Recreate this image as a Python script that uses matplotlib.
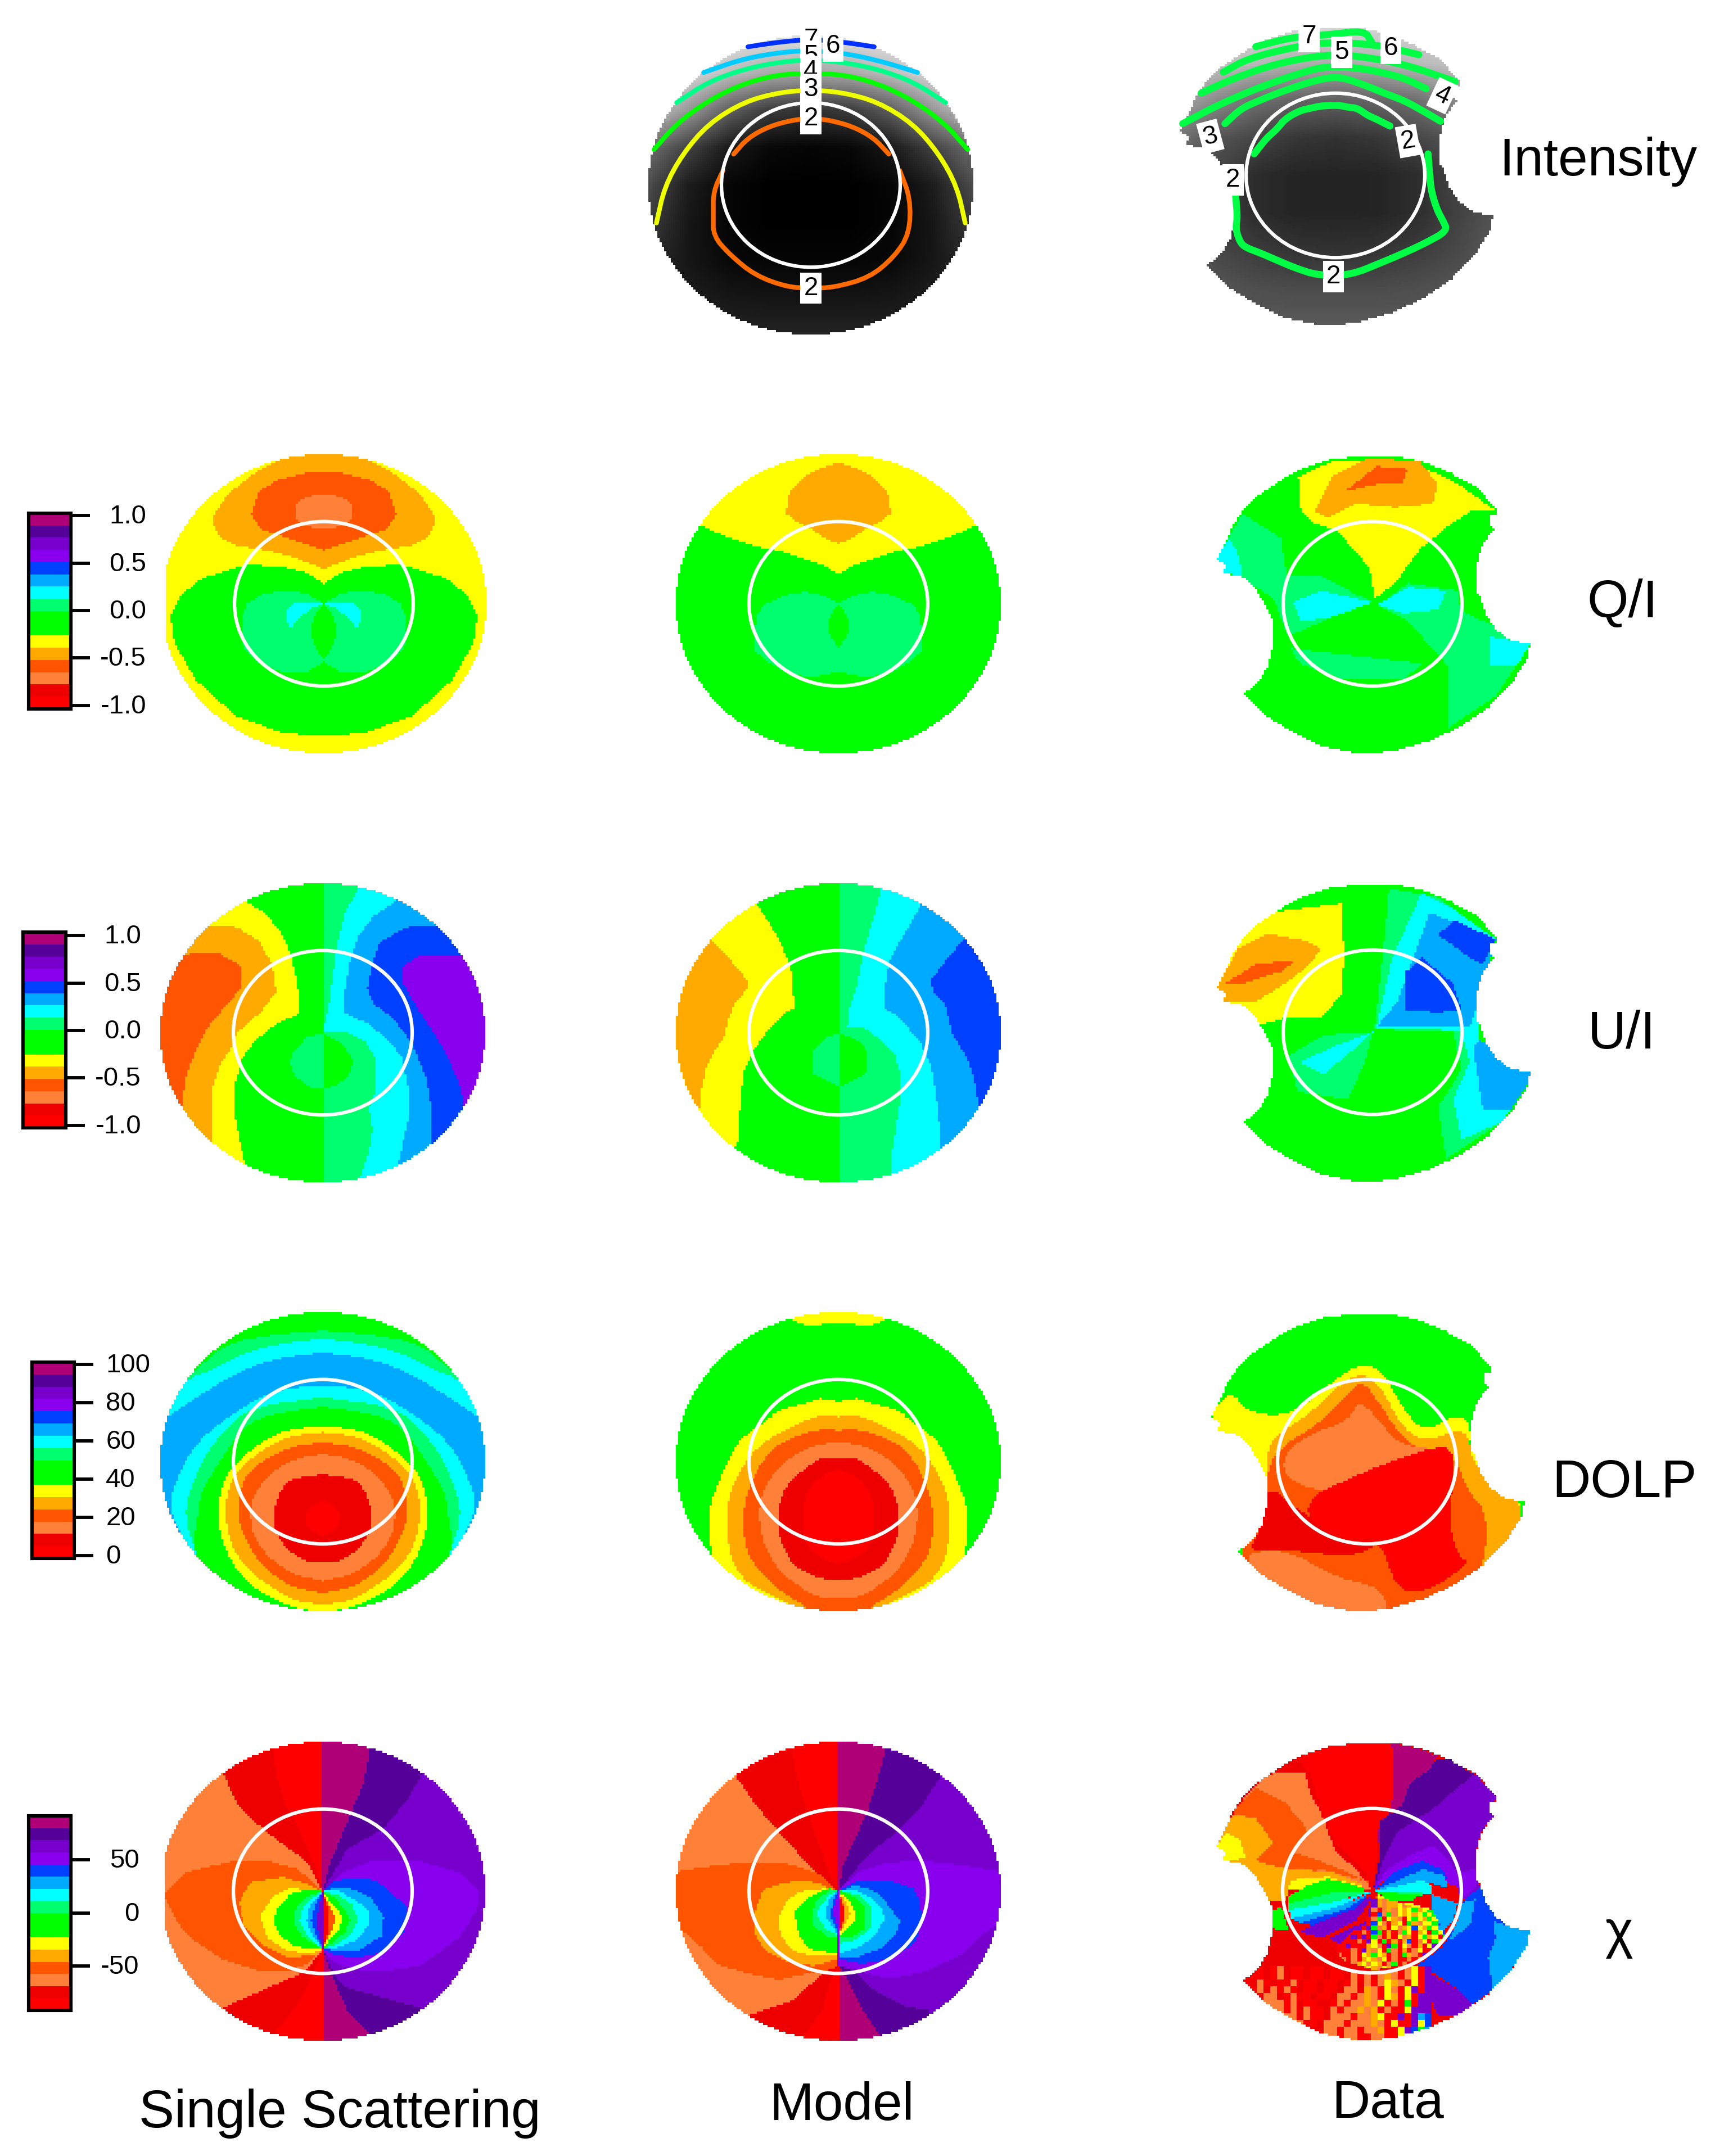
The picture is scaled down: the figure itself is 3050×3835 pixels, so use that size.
"""
Sky radiance / polarization maps: single scattering, model and data.
Region outlines are read off the original figure, in panel units
(u, v) where the ring has radius 0.55 and the full sky disk radius 1.
"""
import numpy as np
import matplotlib
matplotlib.use('Agg')
import matplotlib.pyplot as plt
from matplotlib.colors import ListedColormap, BoundaryNorm
from matplotlib.patches import Ellipse
from matplotlib.path import Path
from matplotlib.transforms import ScaledTranslation

plt.rcParams['font.family'] = ['Liberation Sans', 'DejaVu Sans']

W, H = 3050, 3835
RED, DRED, LORANGE, ORANGE, AMBER, YELLOW, GREEN, SPRING, CYAN, SKY, BLUE, VIOLET, PURPLE, DPURPLE, MAGENTA = range(15)
level_colors = ['#FF0000', '#EE0000', '#FF8038', '#FF5500', '#FFAA00', '#FFFF00', '#00FF00', '#00FF6E',
                '#00FFFF', '#00AAFF', '#0040FF', '#8800EE', '#7700CC', '#550099', '#B00077']
cbar_levels = [0, 1, 2, 3, 4, 5, 6, 6, 7, 8, 9, 10, 11, 12, 13, 14]

cbar_q_ticks = [-1.0, -0.5, 0.0, 0.5, 1.0]
cbar_q_labels = ['-1.0', '-0.5', '0.0', '0.5', '1.0']
cbar_dolp_ticks = [0, 20, 40, 60, 80, 100]
cbar_chi_ticks = [-50, 0, 50]


def sym(half):
    # outline given for u >= 0, mirrored to the left
    return half + [(-u, v) for u, v in reversed(half)]


def zoomed(pts, x0=762, sx=640.6, y0=740, sy=697.7):
    # outlines read straight from a crop of the figure
    return [((x - x0) / sx, (y0 - y) / sy) for x, y in pts]


data_outline = [(-.08, .99), (.12, .99), (.31, .95), (.47, .88), (.64, .78), (.76, .64), (.77, .60), (.72, .59),
                (.72, .53), (.75, .50), (.68, .40), (.65, .30), (.64, .20), (.64, .09), (.67, .03), (.70, -.07),
                (.76, -.17), (.84, -.24), (.97, -.27), (.95, -.37), (.86, -.53), (.71, -.70), (.53, -.83),
                (.34, -.92), (.12, -.99), (-.10, -1.0), (-.32, -.95), (-.49, -.86), (-.66, -.75), (-.80, -.60),
                (-.74, -.56), (-.69, -.50), (-.65, -.43), (-.62, -.30), (-.61, -.16), (-.62, -.10), (-.66, -.01),
                (-.72, .10), (-.81, .19), (-.92, .20), (-.90, .26), (-.96, .29), (-.92, .37), (-.86, .52),
                (-.80, .62), (-.71, .72), (-.64, .77), (-.53, .85), (-.46, .89), (-.28, .96)]

# Q/I
q_single = [
    (AMBER, sym([(0, 1.1), (.13, 1.0), (.28, .96), (.43, .87), (.59, .735), (.68, .59), (.68, .52), (.64, .44),
                 (.545, .39), (.32, .35), (.21, .32), (.10, .275), (0, .235)])),
    (ORANGE, sym([(0, .875), (.10, .875), (.28, .83), (.40, .75), (.445, .60), (.39, .50), (.235, .446), (0, .36)])),
    (LORANGE, sym([(0, .73), (.09, .72), (.16, .68), (.18, .62), (.16, .55), (.08, .51), (0, .51)])),
    (GREEN, sym([(0, .135), (.10, .205), (.26, .25), (.48, .26), (.75, .17), (.88, .06), (.945, -.08), (.92, -.26),
                 (.79, -.51), (.545, -.75), (.26, -.86), (.10, -.88), (0, -.88)])),
    (SPRING, sym([(0, 0), (.10, .065), (.21, .09), (.37, .065), (.47, 0), (.51, -.11), (.50, -.28), (.41, -.39),
                  (.26, -.455), (.10, -.455), (0, -.39)])),
    (GREEN, sym([(0, 0), (.05, -.07), (.075, -.15), (.075, -.22), (.05, -.3), (0, -.375)])),
    (CYAN, [(.005, 0), (.05, .015), (.18, .015), (.225, -.045), (.23, -.11), (.20, -.165), (.15, -.09), (.07, -.03)]),
    (CYAN, [(-.005, 0), (-.05, .015), (-.18, .015), (-.225, -.045), (-.23, -.11), (-.20, -.165), (-.15, -.09), (-.07, -.03)]),
]
q_model = [
    (YELLOW, sym([(0, 1.1), (1.1, 1.1), (1.1, .56), (.86, .53), (.74, .47), (.52, .385), (.37, .357), (.215, .30),
                  (.09, .255), (0, .2)])),
    (AMBER, sym([(0, .945), (.10, .91), (.215, .845), (.30, .745), (.32, .63), (.33, .61), (.26, .55), (.154, .49),
                 (.085, .44), (0, .40)])),
    (SPRING, sym([(0, 0), (.077, .05), (.2, .08), (.34, .055), (.46, -.01), (.5, -.075), (.51, -.145), (.52, -.25),
                  (.51, -.32), (.43, -.39), (.31, -.47), (.154, -.49), (0, -.455)])),
    (GREEN, sym([(0, -.01), (.04, -.06), (.062, -.12), (.055, -.2), (.03, -.25), (0, -.295)])),
]
q_data = [
    (YELLOW, [(-.456, .85), (-.25, .95), (.215, .96), (.53, .80), (.76, .62), (.61, .62), (.465, .52), (.29, .365),
              (.137, .137), (.012, .035), (-.02, .24), (-.22, .49), (-.36, .54), (-.44, .62)]),
    (AMBER, [(-.35, .62), (-.25, .85), (-.02, .975), (.29, .95), (.40, .80), (.37, .67), (.137, .645), (-.097, .67), (-.28, .57)]),
    (ORANGE, [(-.175, .75), (.03, .92), (.215, .9), (.18, .8), (.03, .8)]),
    (SPRING, [(-.955, .31), (-.8, .6), (-.565, .44), (-.53, .19), (-.33, .19), (-.097, .06), (0, .01), (-.25, -.09),
              (-.52, -.22), (-.61, .035), (-.83, .19), (-.92, .21)]),
    (CYAN, [(-.955, .31), (-.88, .44), (-.83, .34), (-.8, .19), (-.92, .2)]),
    (CYAN, [(-.49, .01), (-.315, .086), (0, .01), (-.25, -.09), (-.44, -.117)]),
    (SPRING, [(.03, -.015), (.215, .137), (.53, .086), (.54, -.04), (.97, -.27), (.76, -.62), (.465, -.83), (.465, -.42), (.215, -.117)]),
    (SPRING, [(-.5, -.3), (-.1, -.35), (.3, -.4), (.2, -.5), (-.2, -.5), (-.45, -.4)]),
    (CYAN, [(.03, -.005), (.215, .11), (.45, .086), (.40, -.04), (.18, -.066)]),
    (CYAN, [(.73, -.22), (.97, -.27), (.887, -.42), (.73, -.42)]),
]

# U/I
right_half = [(0, 1.2), (1.2, 1.2), (1.2, -1.2), (0, -1.2)]
u_single = [
    (SPRING, right_half),
    (YELLOW, [(-.484, .885), (-.35, .8), (-.24, .647), (-.2, .53), (-.165, .374), (-.143, .23), (-.143, .13), (-.286, .058),
              (-.418, -.058), (-.495, -.173), (-.54, -.33), (-.54, -.575), (-.505, -.75), (-.473, -.89), (-1.2, -.9), (-1.2, .9)]),
    (AMBER, [(-.70, .72), (-.53, .705), (-.396, .62), (-.31, .46), (-.286, .273), (-.374, .144), (-.527, 0), (-.57, -.115),
             (-.637, -.216), (-.68, -.374), (-.688, -.575), (-.68, -.734), (-1.2, -.75), (-1.2, .72)]),
    (ORANGE, [(-.868, .51), (-.813, .53), (-.637, .53), (-.505, .446), (-.505, .30), (-.615, .158), (-.725, .014), (-.79, -.144),
              (-.846, -.30), (-.868, -.49), (-1.2, -.49), (-1.2, .51)]),
    (CYAN, [(.22, .97), (.132, .79), (.088, .575), (.055, .317), (.033, .144), (0, .014), (.132, .014), (.264, -.058), (.33, -.187),
            (.33, -.374), (.286, -.504), (.308, -.647), (.286, -.79), (.23, -.964), (.23, -1.2), (1.2, -1.2), (1.2, 1.2), (.22, 1.2)]),
    (SKY, [(.46, .892), (.308, .777), (.22, .647), (.165, .475), (.132, .245), (.132, .13), (.286, .058), (.407, -.058),
           (.484, -.158), (.527, -.36), (.527, -.575), (.484, -.777), (.46, -.892), (.46, -1.2), (1.2, -1.2), (1.2, 1.2), (.46, 1.2)]),
    (BLUE, [(.69, .72), (.505, .705), (.35, .604), (.308, .475), (.275, .30), (.308, .2), (.44, .086), (.55, -.07), (.637, -.30),
            (.67, -.504), (.67, -.734), (.67, -1.2), (1.2, -1.2), (1.2, .72)]),
    (VIOLET, [(.835, .525), (.593, .518), (.495, .446), (.495, .33), (.593, .144), (.703, -.03), (.79, -.216), (.846, -.36),
              (.868, -.496), (1.2, -.496), (1.2, .525)]),
    (SPRING, [(0, 0), (-.1, -.03), (-.18, -.13), (-.2, -.19), (-.17, -.29), (-.08, -.36), (0, -.374)]),
    (GREEN, [(0, 0), (.09, -.05), (.16, -.13), (.187, -.19), (.16, -.29), (.08, -.35), (0, -.374)]),
]
u_model = [
    (SPRING, right_half),
    (YELLOW, [(-.5, .863), (-.446, .77), (-.37, .64), (-.32, .51), (-.29, .425), (-.28, .31), (-.27, .165), (-.32, .137), (-.41, .05),
              (-.477, -.05), (-.52, -.108), (-.55, -.18), (-.585, -.266), (-.597, -.396), (-.608, -.54), (-.623, -.755), (-1.2, -.8), (-1.2, .9)]),
    (AMBER, [(-.785, .625), (-.71, .54), (-.615, .425), (-.56, .345), (-.56, .295), (-.64, .195), (-.68, .08), (-.70, -.02),
             (-.76, -.12), (-.815, -.237), (-.846, -.395), (-.85, -.51), (-1.2, -.51), (-1.2, .625)]),
    (CYAN, [(.26, .964), (.215, .77), (.17, .61), (.14, .47), (.108, .295), (.06, .137), (.054, .036), (.154, .036), (.246, -.036),
            (.346, -.15), (.377, -.266), (.377, -.468), (.36, -.568), (.346, -.683), (.323, -.827), (.33, -.94), (.33, -1.2),
            (1.2, -1.2), (1.2, 1.2), (.26, 1.2)]),
    (SKY, [(.508, .856), (.446, .74), (.37, .6), (.31, .47), (.285, .31), (.277, .158), (.37, .108), (.446, .007), (.508, -.065),
           (.57, -.22), (.59, -.324), (.608, -.468), (.623, -.61), (.634, -.763), (.634, -1.2), (1.2, -1.2), (1.2, 1.2), (.508, 1.2)]),
    (BLUE, [(.77, .626), (.66, .48), (.57, .353), (.585, .28), (.66, .18), (.685, .08), (.708, -.02), (.785, -.15), (.823, -.25),
            (.854, -.396), (.858, -.504), (1.2, -.504), (1.2, .626)]),
    (SPRING, [(0, -.007), (-.08, -.03), (-.16, -.12), (-.16, -.27), (-.09, -.31), (-.02, -.35), (0, -.36)]),
    (GREEN, [(0, -.007), (.08, -.03), (.14, -.07), (.166, -.11), (.166, -.27), (.08, -.32), (.02, -.35), (0, -.36)]),
]
u_data = [
    (YELLOW, [(-.96, .29), (-.8, .71), (-.565, .81), (-.19, .86), (-.175, .51), (-.19, .25), (-.315, .1), (-.52, .1), (-.69, .05), (-.92, .2)]),
    (AMBER, [(-.96, .29), (-.83, .56), (-.643, .66), (-.41, .61), (-.315, .56), (-.38, .457), (-.5, .355), (-.72, .2), (-.92, .2)]),
    (ORANGE, [(-.9, .33), (-.72, .457), (-.47, .48), (-.565, .406), (-.78, .33)]),
    (SPRING, [(.01, .02), (.06, .5), (.1, .96), (.4, .9), (.76, .62), (.65, .2), (.65, -.05), (1, -.28), (.8, -.6), (.45, -.85), (.4, -.5), (.55, -.25), (.5, 0)]),
    (CYAN, [(.02, .02), (.12, .5), (.3, .93), (.5, .82), (.76, .62), (.65, .2), (.66, -.05), (1, -.28), (.8, -.6), (.55, -.72), (.5, -.45), (.6, -.2), (.55, 0), (.3, .03)]),
    (SKY, [(.02, .03), (.15, .2), (.25, .5), (.35, .8), (.76, .62), (.65, .2), (.6, .03), (.4, .04)]),
    (SKY, [(.62, -.1), (.66, -.05), (1, -.28), (.85, -.52), (.68, -.52)]),
    (BLUE, [(.2, .4), (.3, .5), (.5, .32), (.55, .15), (.4, .13), (.2, .15)]),
    (BLUE, [(.4, .65), (.5, .75), (.76, .62), (.68, .45), (.6, .5)]),
    (SPRING, [(0, 0), (-.3, -.02), (-.52, -.16), (-.46, -.4), (-.15, -.45), (-.05, -.2)]),
    (CYAN, [(0, 0), (-.2, -.08), (-.45, -.2), (-.3, -.28), (-.1, -.1)]),
]

# DOLP
dolp_single = [
    (SPRING, sym([(0, .876), (.28, .85), (.57, .80), (.72, .68), (1.2, .2), (1.2, -1.2), (0, -1.2)])),
    (CYAN, sym([(0, .82), (.26, .79), (.5, .72), (.71, .60), (.83, .56), (1.2, .2), (1.2, -1.2), (0, -1.2)])),
    (SKY, sym([(0, .73), (.3, .69), (.55, .585), (.75, .45), (.9, .34), (.96, .3), (1.3, 0), (1.3, -1.2), (0, -1.2)])),
    (CYAN, sym([(0, .51), (.22, .49), (.37, .437), (.57, .31), (.79, .12), (.92, -.167), (.945, -.31), (.857, -.527), (.7, -.8), (0, -1.2)])),
    (SPRING, sym([(0, .43), (.44, .365), (.615, .207), (.747, .006), (.857, -.31), (.813, -.527), (.725, -.714), (.5, -1.0), (0, -1.2)])),
    (GREEN, sym([(0, .365), (.2, .34), (.395, .294), (.527, .178), (.64, 0), (.75, -.2), (.77, -.35), (.8, -.55), (.75, -.75), (.55, -1.0), (.3, -1.2), (0, -1.2)])),
    (YELLOW, sym([(0, .24), (.264, .207), (.44, .078), (.55, -.023), (.615, -.138), (.653, -.31), (.637, -.483), (.55, -.714), (.374, -.886), (.154, -.987), (0, -1.0)])),
    (AMBER, sym([(0, .196), (.22, .17), (.396, .063), (.527, -.066), (.582, -.167), (.609, -.368), (.55, -.613), (.396, -.786), (.154, -.944), (0, -.95)])),
    (ORANGE, sym([(0, .125), (.154, .114), (.33, .035), (.484, -.095), (.527, -.31), (.505, -.455), (.396, -.67), (.22, -.83), (0, -.88)])),
    (LORANGE, sym([(0, .05), (.176, .02), (.31, -.066), (.43, -.224), (.45, -.397), (.396, -.57), (.22, -.742), (0, -.80)])),
    (DRED, sym([(0, -.085), (.176, -.11), (.25, -.167), (.308, -.34), (.286, -.498), (.176, -.627), (.088, -.67), (0, -.67)])),
    (RED, sym([(0, -.26), (.07, -.29), (.115, -.38), (.08, -.46), (0, -.50)])),
]
dolp_model = [
    (YELLOW, sym([(0, .932), (.12, .915), (.2, .91), (.3, .95), (.3, 1.1), (0, 1.1)])),
    (YELLOW, sym([(0, .40), (.123, .43), (.185, .39), (.37, .35), (.446, .264), (.52, .22), (.63, .12), (.708, -.066), (.777, -.24),
                  (.8, -.38), (.785, -.626), (.7, -.8), (.5, -1.0), (0, -1.2)])),
    (AMBER, sym([(0, .30), (.09, .315), (.215, .27), (.37, .19), (.52, .078), (.63, -.095), (.685, -.28), (.69, -.454), (.66, -.655),
                 (.57, -.813), (.37, -.914), (.29, -.96), (.28, -1.1), (0, -1.1)])),
    (ORANGE, sym([(0, .20), (.06, .224), (.215, .19), (.37, .12), (.477, -.01), (.554, -.167), (.592, -.368), (.57, -.6), (.49, -.727),
                  (.37, -.856), (.154, -1.0), (.15, -1.1), (0, -1.1)])),
    (LORANGE, sym([(0, .128), (.154, .113), (.29, .034), (.4, -.08), (.47, -.21), (.49, -.37), (.46, -.555), (.37, -.727), (.215, -.856), (.108, -.914), (0, -.914)])),
    (DRED, sym([(0, .027), (.108, .027), (.215, -.052), (.31, -.152), (.354, -.24), (.377, -.382), (.354, -.54), (.277, -.70), (.108, -.785), (0, -.79)])),
    (RED, sym([(0, -.05), (.108, -.095), (.19, -.195), (.223, -.34), (.208, -.57), (.06, -.67), (0, -.68)])),
]
dolp_data = [
    (YELLOW, [(-.968, .305), (-.843, .48), (-.733, .33), (-.53, .305), (-.375, .38), (-.187, .56), (-.03, .66), (.094, .61), (.22, .355),
              (.343, .2), (.53, .305), (.64, .28), (.63, .025), (1.05, -.3), (.6, -1.1), (-.85, -.65), (-.62, -.2), (-.72, .1), (-.92, .19)]),
    (AMBER, [(-.62, .1), (-.5, .22), (-.35, .32), (-.19, .5), (-.03, .6), (.09, .5), (.2, .25), (.34, .13), (.53, .2), (.62, .2), (.66, -.05),
             (1.05, -.32), (.6, -1.1), (-.85, -.65), (-.62, -.2)]),
    (ORANGE, [(-.6, 0), (-.5, .12), (-.3, .25), (-.15, .42), (-.03, .55), (.07, .4), (.2, .18), (.35, .06), (.55, .03), (.62, -.2), (.72, -.3),
              (.75, -.55), (.6, -1.1), (.3, -1.1), (-.3, -1.1), (-.85, -.65), (-.62, -.2)]),
    (LORANGE, [(-.52, .03), (-.38, .17), (-.1, .28), (-.06, .42), (.06, .3), (.2, .1), (.53, .08), (.53, -.02), (.1, -.06), (-.22, -.22), (-.5, -.12)]),
    (LORANGE, [(-.8, -.62), (-.5, -.58), (-.18, -.78), (.09, -.84), (.14, -1.05), (-.2, -1.05), (-.5, -.9)]),
    (DRED, [(-.62, -.13), (-.375, -.38), (.09, -.53), (-.06, -.64), (-.6, -.58), (-.73, -.6), (-.65, -.43)]),
    (RED, [(-.34, -.23), (-.14, -.13), (.09, -.02), (.5, .13), (.55, -.03), (.5, -.38), (.56, -.63), (.64, -.68), (.34, -.89), (.17, -.84),
           (.09, -.53), (-.14, -.53), (-.375, -.38)]),
]

# chi
chi_single = [
    (PURPLE, right_half),
    (DRED, [(0, 0), (-.1, .2), (-.34, .39), (-.527, .578), (-.615, .794), (-.7, 1.2), (0, 1.2)]),
    (RED, [(0, 0), (-.06, .2), (-.165, .46), (-.22, .564), (-.286, .78), (-.297, .95), (-.297, 1.2), (0, 1.2)]),
    (DPURPLE, [(0, 0), (.15, .28), (.374, .42), (.527, .62), (.604, .765), (.7, 1.2), (0, 1.2)]),
    (MAGENTA, [(0, 0), (.05, .2), (.165, .5), (.25, .72), (.29, .95), (.29, 1.2), (0, 1.2)]),
    (DRED, [(0, -.388), (-.11, -.54), (-.26, -.61), (-.615, -.78), (-.7, -1.2), (0, -1.2)]),
    (RED, [(0, -.388), (-.05, -.53), (-.13, -.72), (-.297, -.96), (-.297, -1.2), (0, -1.2)]),
    (DPURPLE, [(0, -.388), (.066, -.54), (.13, -.64), (.6, -.78), (.7, -1.2), (0, -1.2)]),
    (MAGENTA, [(0, -.388), (.05, -.55), (.16, -.82), (.29, -.95), (.29, -1.2), (0, -1.2)]),
    (ORANGE, [(0, 0), (-.154, .147), (-.33, .2), (-.55, .2), (-.835, .13), (-.967, -.01), (-.967, -.055), (-.9, -.2), (-.813, -.314),
              (-.615, -.458), (-.374, -.537), (-.22, -.537), (-.088, -.486), (0, -.388)]),
    (AMBER, [(0, 0), (-.1, .05), (-.24, .094), (-.44, .06), (-.516, -.07), (-.484, -.227), (-.374, -.357), (-.22, -.443), (-.044, -.43), (0, -.388)]),
    (YELLOW, [(0, 0), (-.2, .02), (-.308, -.04), (-.385, -.17), (-.34, -.314), (-.22, -.4), (-.066, -.414), (0, -.388)]),
    (GREEN, [(0, 0), (-.1, .01), (-.2, -.02), (-.28, -.12), (-.3, -.2), (-.26, -.3), (-.17, -.37), (-.06, -.39), (0, -.388)]),
    (SPRING, [(0, 0), (-.1, -.04), (-.16, -.1), (-.18, -.2), (-.13, -.3), (0, -.388)]),
    (CYAN, [(0, 0), (-.08, -.06), (-.13, -.13), (-.14, -.2), (-.1, -.29), (0, -.388)]),
    (SKY, [(0, 0), (-.08, -.1), (-.1, -.2), (-.07, -.28), (0, -.388)]),
    (BLUE, [(0, 0), (-.05, -.1), (-.07, -.2), (-.04, -.3), (0, -.388)]),
    (PURPLE, [(0, 0), (-.02, -.1), (-.04, -.2), (-.02, -.3), (0, -.388)]),
    (VIOLET, [(0, 0), (.13, .13), (.3, .2), (.6, .2), (.85, .12), (.96, 0), (.95, -.12), (.84, -.31), (.6, -.5), (.35, -.54), (.17, -.52), (.05, -.46), (0, -.388)]),
    (BLUE, [(0, 0), (.08, .07), (.2, .09), (.33, .07), (.44, -.03), (.52, -.11), (.5, -.27), (.37, -.41), (.2, -.45), (.05, -.42), (0, -.388)]),
    (SKY, [(0, 0), (.1, .03), (.2, .01), (.3, -.05), (.374, -.17), (.36, -.3), (.22, -.4), (0, -.388)]),
    (CYAN, [(0, 0), (.1, 0), (.2, -.06), (.28, -.13), (.29, -.22), (.2, -.33), (.06, -.39), (0, -.388)]),
    (SPRING, [(0, 0), (.1, -.03), (.18, -.09), (.22, -.19), (.18, -.28), (.1, -.35), (0, -.388)]),
    (GREEN, [(0, 0), (.08, -.05), (.14, -.13), (.17, -.19), (.14, -.27), (.07, -.34), (0, -.388)]),
    (YELLOW, [(0, 0), (.05, -.08), (.1, -.13), (.12, -.19), (.1, -.26), (.04, -.33), (0, -.388)]),
    (ORANGE, [(0, 0), (.04, -.1), (.08, -.19), (.05, -.28), (0, -.388)]),
    (RED, [(0, 0), (.03, -.1), (.03, -.28), (0, -.388)]),
]
chi_model = [
    (PURPLE, right_half),
    (DRED, [(0, 0), (-.185, .175), (-.37, .405), (-.51, .578), (-.63, .764), (-.7, .9), (-.4, 1.2), (0, 1.2)]),
    (RED, [(0, 0), (-.06, .13), (-.185, .52), (-.26, .78), (-.285, .95), (-.285, 1.2), (0, 1.2)]),
    (DPURPLE, [(0, 0), (.185, .247), (.37, .405), (.52, .578), (.63, .764), (.7, .9), (.4, 1.2), (0, 1.2)]),
    (MAGENTA, [(0, 0), (.03, .18), (.18, .54), (.25, .79), (.29, .95), (.29, 1.2), (0, 1.2)]),
    (DRED, [(0, -.5), (-.092, -.543), (-.277, -.73), (-.554, -.83), (-.6, -1.2), (0, -1.2)]),
    (RED, [(0, -.5), (-.05, -.6), (-.1, -.8), (-.18, -.92), (-.25, -1.0), (-.25, -1.2), (0, -1.2)]),
    (DPURPLE, [(0, -.5), (.09, -.53), (.215, -.658), (.415, -.773), (.554, -.793), (.62, -1.2), (0, -1.2)]),
    (MAGENTA, [(0, -.5), (.06, -.6), (.15, -.8), (.26, -.98), (.26, -1.2), (0, -1.2)]),
    (ORANGE, [(-1.2, .13), (-1, .13), (-.785, .168), (-.523, .197), (-.308, .182), (-.123, .118), (0, 0), (0, -.5), (-.092, -.543), (-.215, -.557),
              (-.37, -.593), (-.585, -.543), (-.754, -.486), (-.846, -.37), (-.97, -.256), (-1.2, -.2)]),
    (AMBER, [(-.01, 0), (-.09, .04), (-.215, .075), (-.37, .046), (-.46, .01), (-.49, -.07), (-.51, -.126), (-.516, -.285), (-.446, -.4), (-.31, -.47), (-.154, -.5), (0, -.45)]),
    (YELLOW, [(-.01, 0), (-.09, .017), (-.246, -.004), (-.32, -.07), (-.37, -.184), (-.354, -.3), (-.277, -.4), (-.154, -.435), (0, -.43)]),
    (GREEN, [(-.01, 0), (-.06, .017), (-.185, -.04), (-.27, -.14), (-.246, -.284), (-.185, -.385), (0, -.42)]),
    (SPRING, [(0, 0), (-.06, 0), (-.13, -.055), (-.16, -.13), (-.16, -.22), (-.08, -.3), (0, -.31)]),
    (CYAN, [(0, 0), (-.06, -.03), (-.13, -.13), (-.13, -.17), (-.08, -.25), (0, -.3)]),
    (SKY, [(0, 0), (-.05, -.04), (-.08, -.13), (-.07, -.18), (0, -.3)]),
    (BLUE, [(0, 0), (-.02, -.03), (-.04, -.1), (-.05, -.16), (0, -.29)]),
    (VIOLET, [(0, 0), (-.01, -.04), (-.03, -.11), (-.03, -.16), (0, -.28)]),
    (VIOLET, [(1.2, .13), (1, .13), (.754, .175), (.52, .204), (.29, .19), (.138, .132), (.015, .03), (0, 0), (0, -.5), (.06, -.514), (.307, -.586), (.52, -.543),
              (.754, -.428), (.877, -.3), (.97, -.227), (1.2, -.2)]),
    (BLUE, [(.015, .01), (.138, .075), (.29, .075), (.46, .017), (.508, -.083), (.515, -.227), (.46, -.356), (.307, -.457), (.138, -.486), (0, -.457), (0, 0)]),
    (SKY, [(.015, 0), (.1, .04), (.2, .01), (.26, -.03), (.377, -.198), (.354, -.284), (.26, -.385), (.108, -.443), (0, -.443), (0, 0)]),
    (CYAN, [(.015, 0), (.08, .015), (.2, -.04), (.27, -.13), (.28, -.19), (.22, -.3), (.13, -.37), (0, -.42), (0, 0)]),
    (SPRING, [(.015, 0), (.13, -.03), (.2, -.1), (.2, -.25), (.1, -.33), (0, -.35), (0, 0)]),
    (GREEN, [(.015, 0), (.1, -.04), (.165, -.12), (.165, -.25), (.08, -.31), (0, -.3), (0, 0)]),
    (YELLOW, [(.015, -.005), (.07, -.07), (.1, -.14), (.1, -.2), (.04, -.27), (0, -.3)]),
    (AMBER, [(.015, -.02), (.06, -.1), (.07, -.15), (.04, -.22), (0, -.29)]),
    (ORANGE, [(.01, -.03), (.035, -.1), (.04, -.16), (.02, -.25), (0, -.29)]),
    (RED, [(0, -.01), (.03, -.1), (.03, -.2), (0, -.3)]),
]
chi_data = [(lev, zoomed(pts)) for lev, pts in [
    (LORANGE, [(250, 310), (350, 195), (500, 190), (520, 290), (560, 370), (620, 560), (700, 640), (765, 738), (440, 650), (330, 600)]),
    (ORANGE, [(215, 370), (300, 260), (420, 330), (500, 440), (510, 480), (450, 560), (600, 620), (750, 700), (560, 640), (440, 690), (420, 780), (345, 760), (300, 670), (245, 610)]),
    (AMBER, [(150, 530), (210, 385), (300, 400), (340, 460), (370, 520), (300, 600), (430, 640), (600, 650), (740, 715), (440, 720), (420, 790), (350, 790), (290, 660), (245, 610), (170, 600)]),
    (YELLOW, [(148, 535), (185, 470), (240, 500), (265, 590), (170, 600)]),
    (YELLOW, [(440, 690), (590, 675), (745, 725), (430, 740)]),
    (GREEN, [(760, 738), (650, 700), (590, 685), (510, 715), (430, 770), (430, 800), (600, 750)]),
    (SPRING, [(760, 740), (600, 750), (430, 800), (430, 830), (620, 790)]),
    (CYAN, [(760, 742), (620, 790), (430, 830), (445, 870), (640, 810)]),
    (SKY, [(760, 745), (640, 810), (445, 870), (480, 890), (660, 830)]),
    (BLUE, [(762, 748), (660, 825), (480, 890), (530, 900), (700, 820)]),
    (PURPLE, [(764, 750), (700, 820), (530, 900), (480, 930), (560, 960), (700, 880), (750, 800)]),
    (GREEN, [(365, 830), (405, 820), (430, 920), (375, 930)]),
    (RED, [(470, 120), (580, 70), (710, 47), (840, 47), (850, 200), (840, 340), (790, 500), (766, 738), (730, 640), (620, 520), (560, 350), (520, 200)]),
    (MAGENTA, [(840, 50), (960, 80), (1020, 110), (990, 170), (910, 240), (880, 340), (830, 380), (790, 420), (780, 600), (766, 738), (790, 500), (840, 340), (850, 200)]),
    (DPURPLE, [(1020, 120), (1070, 130), (1170, 200), (1100, 260), (1000, 360), (920, 420), (860, 470), (810, 590), (768, 735), (790, 600), (790, 420), (880, 340), (910, 240), (990, 170)]),
    (PURPLE, [(1170, 195), (1250, 295), (1258, 318), (1222, 325), (1225, 370), (1245, 390), (1195, 460), (1178, 530), (1170, 600), (1175, 680), (1190, 720), (1130, 780), (1120, 780),
              (1110, 700), (1050, 600), (1000, 530), (920, 570), (820, 640), (770, 730), (810, 590), (860, 470), (920, 420), (1000, 360), (1100, 260)]),
    (VIOLET, [(770, 732), (820, 640), (920, 570), (1000, 530), (1060, 590), (1100, 660), (1170, 640), (1170, 720), (1115, 790), (1100, 720), (1020, 690), (900, 640), (800, 700)]),
    (BLUE, [(772, 735), (860, 645), (960, 600), (1040, 640), (1060, 680), (960, 640), (870, 690)]),
    (SKY, [(772, 738), (870, 690), (960, 640), (1050, 670), (1060, 730), (980, 700), (880, 720)]),
    (CYAN, [(772, 740), (880, 715), (960, 690), (1000, 720), (1000, 760), (900, 745)]),
    (SPRING, [(772, 741), (880, 745), (960, 740), (960, 770), (860, 765)]),
    (GREEN, [(772, 743), (860, 750), (950, 760), (920, 790), (840, 790)]),
    (YELLOW, [(775, 750), (840, 790), (920, 800), (1000, 830), (960, 880), (880, 860), (800, 800)]),
    (ORANGE, [(775, 755), (800, 800), (870, 820), (880, 880), (780, 880), (770, 800)]),
    (PURPLE, [(766, 755), (740, 880), (600, 960), (640, 1000), (720, 930), (770, 900)]),
    (SKY, [(1000, 760), (1100, 800), (1085, 870), (1020, 960), (1000, 850)]),
    (BLUE, [(1120, 790), (1190, 720), (1210, 790), (1250, 860), (1300, 905), (1385, 930), (1370, 1000), (1310, 1110), (1240, 1200), (1160, 1270), (1100, 1200), (1000, 1120), (940, 1090), (1040, 1000), (1100, 880)]),
    (SKY, [(1240, 880), (1300, 905), (1385, 930), (1370, 1000), (1310, 1110), (1240, 1210), (1220, 1050), (1250, 960)]),
    (SKY, [(1110, 800), (1170, 780), (1150, 900), (1060, 980), (1100, 880)]),
    (PURPLE, [(940, 1090), (1100, 1200), (1160, 1270), (1110, 1330), (1020, 1320), (980, 1200)]),
    (RED, [(560, 1120), (700, 1140), (700, 1280), (560, 1260)]),
]]
# the mottled part of the chi data panel, read as coarse cells, top row first
letter_level = {'r': RED, 'd': DRED, 'o': LORANGE, 'a': AMBER, 'y': YELLOW, 'g': GREEN, 's': SKY, 'b': BLUE, 'p': PURPLE}
chi_ring_cells = ["ppppppppaoaayoaygyaybb",
                  "ppppppporoaoyaygayggsb",
                  "pppppbprbogoyayaygygsb",
                  "pppppprogryaorygyagysb",
                  "prpppprbyorayrgaoyygbs",
                  "rprpprpgoaryoaybyagyss",
                  "rrprrorbgrarogyrayrgyb",
                  "rrrprprgoraryoarygayrg",
                  "prrrorpyrgrarabroyrgyg",
                  "rrprrrayorpgryorarypgr",
                  "rrrorpaoyrgoraroyrrgpr",
                  "orroryagyarorgaorpryrr",
                  "rororayaoyrorroraprrrr",
                  "orroayoyarogrorrrrrrrr",
                  "roroaoyaoyaroarrorrrrr"]
chi_ring_zone = zoomed([(775, 760), (880, 800), (1000, 830), (1060, 960), (1000, 1060), (880, 1100), (760, 1110), (640, 1060), (620, 1000), (740, 880)])
chi_low_cells = ["drrdrodrrdrrdrrdorodoaoroyrp",
                 "rdordrrodrrdrrdrodoroyaoryrp",
                 "drodorordrrdrrdoodaoryoryprp",
                 "ordoodrorrdrrdooroaoryaryrpp",
                 "odrooorodrrddrorooaoyrorgrpp",
                 "roodoorodorrdorooaoarorryppp",
                 "rodooroodorrdooorooayrrprpsb",
                 "drooorooodrdoooroooaoryrrpyb",
                 "drrodoorooddooroorooarrypbgs",
                 "rddrooroooodooroorroorryrrgg"]

# intensity: grey level samples, rows v = 1 .. -1, columns |u| = 0 .. 1
grey_v = [1, .75, .5, .25, 0, -.25, -.5, -.75, -1]
grey_u = [0, .25, .5, .75, 1]
grey_model = [[225, 225, 225, 225, 225], [165, 170, 190, 215, 225], [50, 60, 95, 150, 200], [5, 8, 25, 65, 110],
              [0, 0, 6, 28, 75], [0, 0, 5, 22, 60], [5, 5, 8, 22, 42], [20, 20, 22, 28, 35], [35, 35, 35, 35, 35]]
grey_data = [[215, 215, 215, 215, 215], [170, 175, 185, 195, 205], [95, 100, 110, 140, 170], [50, 55, 70, 85, 120],
             [35, 36, 45, 70, 85], [35, 36, 45, 65, 85], [50, 52, 60, 72, 90], [75, 75, 78, 85, 95], [90, 90, 90, 90, 90]]

# contour lines of the intensity panels, one list per contour level
model_lines = [
    ('#0030FF', [(-.387, .924), (-.2, .955), (0, .975), (.2, .955), (.39, .924)]),
    ('#00CCFF', [(-.66, .752), (-.41, .846), (-.167, .889), (0, .9), (.23, .877), (.45, .822), (.657, .752)]),
    ('#00FF88', [(-.826, .55), (-.63, .69), (-.41, .775), (-.19, .822), (0, .838), (.19, .822), (.41, .775), (.63, .69), (.83, .55)]),
    ('#00FF00', [(-.965, .237), (-.826, .41), (-.63, .565), (-.41, .68), (-.19, .74), (0, .744), (.19, .74), (.41, .68), (.63, .565), (.826, .41), (.965, .237)]),
    ('#EEFF00', [(-.95, -.254), (-.9, -.012), (-.79, .206), (-.63, .41), (-.41, .557), (-.19, .62), (0, .635), (.19, .62), (.41, .557), (.63, .41), (.79, .206), (.9, -.012), (.95, -.254)]),
    ('#FF6A00', [(-.475, .206), (-.387, .315), (-.255, .393), (-.1, .437), (0, .443), (.1, .437), (.255, .393), (.387, .315), (.48, .206)]),
    ('#FF6A00', [(-.54, .097), (-.6, -.044), (-.6, -.2), (-.6, -.34), (-.5, -.465), (-.343, -.605), (-.145, -.683), (0, -.69), (.14, -.686),
                 (.36, -.62), (.514, -.48), (.607, -.325), (.613, -.09), (.547, .097)]),
]
data_lines = [
    [(-.5, .144), (-.46, .2), (-.42, .253), (-.36, .31), (-.31, .378), (-.22, .433), (-.15, .45), (-.09, .465), (.02, .47), (.08, .455), (.134, .45), (.2, .4), (.245, .38), (.335, .33)],
    [(-.614, -.137), (-.603, -.278), (-.614, -.356), (-.59, -.44), (-.558, -.48), (-.46, -.52), (-.38, -.558), (-.246, -.62), (-.11, -.668), (.09, -.668), (.29, -.58), (.42, -.52),
     (.558, -.45), (.69, -.37), (.66, -.3), (.625, -.23), (.59, -.106), (.58, 0), (.57, .144)],
    [(-.68, .346), (-.58, .448), (-.47, .5), (-.357, .55), (-.2, .61), (-.067, .65), (.033, .658), (.18, .604), (.3, .55), (.424, .5), (.54, .43), (.647, .362)],
    [(-.94, .346), (-.737, .463), (-.49, .58), (-.246, .674), (-.067, .73), (.134, .72), (.28, .69), (.424, .65), (.558, .58)],
    [(-.826, .55), (-.625, .65), (-.357, .75), (-.067, .807), (.134, .8), (.424, .744), (.737, .627)],
    [(-.69, .69), (-.536, .783), (-.246, .86), (-.067, .89), (.245, .877), (.513, .807)],
    [(-.49, .861), (-.268, .924), (-.045, .94), (.179, .97), (.223, .89)],
]
# label, u, v, rotation
model_tags = [('7', 0, .97, 0), ('6', .137, .93, 0), ('5', 0, .86, 0), ('4', 0, .76, 0), ('3', 0, .64, 0), ('2', 0, .445, 0), ('2', 0, -.69, 0)]
data_tags = [('7', -.163, .93, 0), ('5', .038, .822, 0), ('6', .34, .85, 0), ('4', .658, .533, -25), ('3', -.77, .26, 15), ('2', .446, .23, 10),
             ('2', -.63, -.03, 0), ('2', -.011, -.675, 0)]

RX, RY = 289, 266
cmap = ListedColormap(level_colors)
cmap.set_bad((1, 1, 1, 0))
norm = BoundaryNorm(np.arange(-.5, 15.5), 15)

nu, nv = 145, 133
uu = (np.arange(nu) + .5) / nu * 2 - 1
vv = (np.arange(nv) + .5) / nv * 2 - 1
ugrid, vgrid = np.meshgrid(uu, vv)
grid_pts = np.column_stack([ugrid.ravel(), vgrid.ravel()])
disk_mask = ugrid**2 + vgrid**2 <= 1.0
flat_left_mask = disk_mask & (ugrid >= -.975)
data_mask = Path(data_outline).contains_points(grid_pts).reshape(ugrid.shape)

fig = plt.figure(figsize=(W / 100, H / 100), dpi=100)
fig.patch.set_facecolor('white')


def px_axes(x0, y0, x1, y1):
    return fig.add_axes([x0 / W, 1 - y1 / H, (x1 - x0) / W, (y1 - y0) / H])


def panel_axes(cx, cy):
    ax = px_axes(cx - 1.25 * RX, cy - 1.25 * RY, cx + 1.25 * RX, cy + 1.25 * RY)
    ax.axis('off')
    return ax


def rounded(pts, n=2, closed=True):
    # corner cutting, the hand-read outlines are a bit angular otherwise
    p = np.array(pts, dtype=float)
    for _ in range(n):
        a = p if closed else p[:-1]
        b = np.roll(p, -1, axis=0) if closed else p[1:]
        q = np.empty((2 * len(a), 2))
        q[0::2] = .75 * a + .25 * b
        q[1::2] = .25 * a + .75 * b
        p = q if closed else np.vstack([p[0], q, p[-1]])
    return p


def finish(ax):
    ax.set_xlim(-1.25, 1.25)
    ax.set_ylim(-1.25, 1.25)
    ax.add_patch(Ellipse((0, 0), 1.1, 1.1, fill=False, ec='white', lw=4.5, zorder=3))


def color_panel(cx, cy, base, layers, mask, smooth=False, cells=()):
    ax = panel_axes(cx, cy)
    field = np.full(ugrid.shape, float(base))
    for lev, pts in layers:
        outline = rounded(pts) if smooth else pts
        field[Path(outline).contains_points(grid_pts).reshape(ugrid.shape)] = lev
    for rows, (u0, u1, v0, v1), zone in cells:
        ci = ((ugrid - u0) / (u1 - u0) * len(rows[0])).astype(int)
        ri = ((v1 - vgrid) / (v1 - v0) * len(rows)).astype(int)
        inside = (ci >= 0) & (ci < len(rows[0])) & (ri >= 0) & (ri < len(rows)) & zone
        for i, j in zip(*np.nonzero(inside)):
            field[i, j] = letter_level[rows[ri[i, j]][ci[i, j]]]
    ax.imshow(np.ma.masked_where(~mask, field), cmap=cmap, norm=norm, origin='lower', extent=[-1, 1, -1, 1],
              aspect='auto', interpolation='nearest')
    finish(ax)


def grey_panel(cx, cy, table, mask):
    ax = panel_axes(cx, cy)
    table = np.array(table, dtype=float)[::-1]
    by_u = np.array([np.interp(np.abs(uu), grey_u, row) for row in table])
    grey = np.array([np.interp(vv, grey_v[::-1], by_u[:, j]) for j in range(nu)]).T
    ax.imshow(np.ma.masked_where(~mask, grey), cmap='gray', vmin=0, vmax=255, origin='lower', extent=[-1, 1, -1, 1],
              aspect='auto', interpolation='nearest')
    finish(ax)
    return ax


def tag(ax, txt, u, v, rot):
    ax.text(u, v, txt, fontsize=33, rotation=rot, ha='center', va='center', zorder=5,
            bbox=dict(boxstyle='square,pad=0.13', fc='white', ec='none'))


def colorbar(x0, y0, x1, y1, lo, hi, ticks, labels, pad, ha):
    ax = px_axes(x0, y0, x1, y1)
    edges = np.linspace(lo, hi, len(cbar_levels) + 1)
    ax.pcolormesh([0, 1], edges, np.array(cbar_levels)[:, None], cmap=cmap, norm=norm)
    ax.set_xticks([])
    ax.yaxis.tick_right()
    ax.set_yticks(ticks)
    ax.set_yticklabels(labels, ha=ha)
    ax.tick_params(axis='y', length=24.5, width=4.2, labelsize=34, pad=pad)
    up = ScaledTranslation(0, 3 / 100, fig.dpi_scale_trans)
    for lab in ax.get_yticklabels():
        lab.set_transform(lab.get_transform() + up)
    for s in ax.spines.values():
        s.set_linewidth(4.4)


# intensity row
ax = grey_panel(1442, 329, grey_model, disk_mask)
for col, pts in model_lines:
    ax.plot(*rounded(pts, closed=False).T, color=col, lw=6, solid_capstyle='round', zorder=2)
for t in model_tags:
    tag(ax, *t)
ax = grey_panel(2375, 312, grey_data, data_mask)
for pts in data_lines:
    ax.plot(*rounded(pts, closed=False).T, color='#00FF44', lw=9, solid_capstyle='round', zorder=2)
for t in data_tags:
    tag(ax, *t)

# polarization rows: centre x, centre y, base level, layers, mask
ring_r = np.hypot(ugrid, vgrid)
ring_zone = Path(chi_ring_zone).contains_points(grid_pts).reshape(ugrid.shape) & (ring_r < .55)
chi_cells = [(chi_ring_cells, (-.22, .465, -.53, -.086), ring_zone),
             (chi_low_cells, (-.8, .37, -1.0, -.55), ring_r >= .55)]
color_panel(576, 1074, YELLOW, q_single, flat_left_mask)
color_panel(1491, 1074, GREEN, q_model, disk_mask)
color_panel(2441, 1074, GREEN, q_data, data_mask)
color_panel(574, 1837, GREEN, u_single, disk_mask)
color_panel(1491, 1837, GREEN, u_model, disk_mask)
color_panel(2441, 1836, GREEN, u_data, data_mask)
color_panel(574, 2600, GREEN, dolp_single, disk_mask, smooth=True)
color_panel(1491, 2600, GREEN, dolp_model, disk_mask, smooth=True)
color_panel(2431, 2600, GREEN, dolp_data, data_mask, smooth=True)
color_panel(574, 3364, LORANGE, chi_single, flat_left_mask)
color_panel(1491, 3364, LORANGE, chi_model, disk_mask)
color_panel(2440, 3363, DRED, chi_data, data_mask, cells=chi_cells)

colorbar(51, 913, 126, 1261, -1.036, 1.024, cbar_q_ticks, cbar_q_labels, 72, 'right')
colorbar(41, 1658, 117, 2006, -1.024, 1.036, cbar_q_ticks, cbar_q_labels, 72, 'right')
colorbar(57, 2423, 132, 2772, -1.5, 101.2, cbar_dolp_ticks, [str(t) for t in cbar_dolp_ticks], 16, 'left')
colorbar(51, 3230, 126, 3576, -91.8, 91.3, cbar_chi_ticks, [str(t) for t in cbar_chi_ticks], 63, 'right')

for txt, x, y in [('Intensity', 2842, 288), ('Q/I', 2886, 1073), ('U/I', 2884, 1841), ('DOLP', 2889, 2639), ('χ', 2879, 3439),
                  ('Single Scattering', 604, 3759), ('Model', 1497, 3747), ('Data', 2468, 3742)]:
    fig.text(x / W, 1 - y / H, txt, fontsize=68, ha='center', va='center')

fig.savefig('out.png', dpi=100)
